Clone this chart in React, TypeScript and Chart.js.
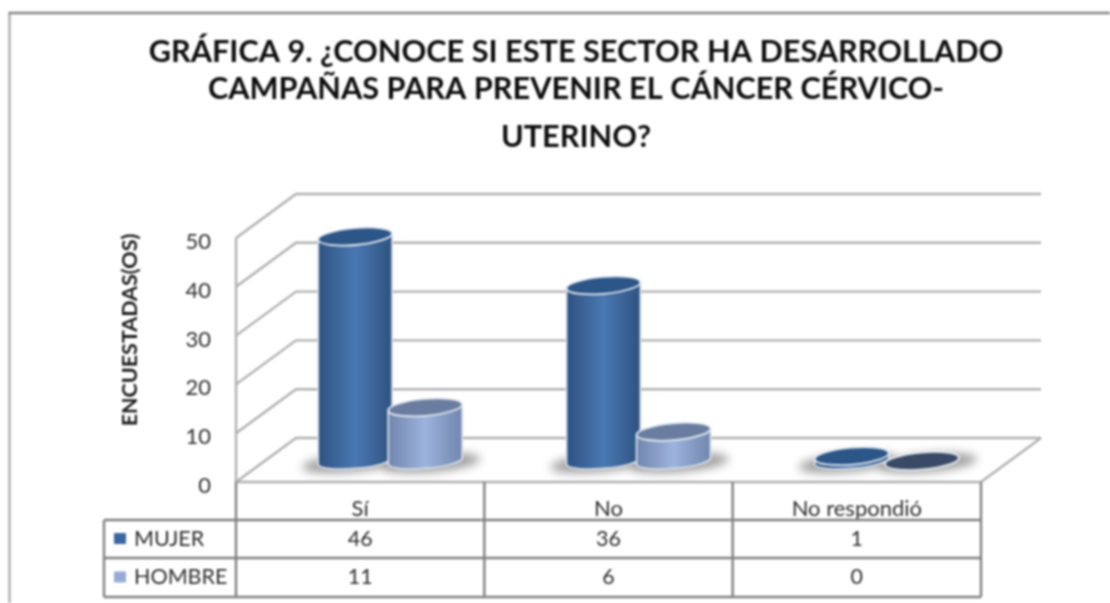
import React, { useEffect, useRef } from "react";
import { Chart, registerables } from "chart.js";

Chart.register(...registerables);

const categories = ["Sí", "No", "No respondió"];
const mujer = [46, 36, 1];
const hombre = [11, 6, 0];
const yTicks = [0, 10, 20, 30, 40, 50];
const titleLines = [
  "GRÁFICA 9. ¿CONOCE SI ESTE SECTOR HA DESARROLLADO",
  "CAMPAÑAS PARA PREVENIR EL CÁNCER CÉRVICO-",
  "UTERINO?",
];
const titleY = [52, 89, 137];
const yAxisTitle = "ENCUESTADAS(OS)";
const FONT = "Lato, Carlito, sans-serif";
const DEPTH_X = 60;
const DEPTH_Y = -44;
const BAR_DY = -21;
const TILT = (-5 * Math.PI) / 180;
const RY = 8.5;
const styles = [
  { edge: "#2e5280", mid: "#4a78b2", top: "#2d5688", swatch: "#3a679f", zero: "#2d5688" },
  { edge: "#7186ad", mid: "#9cb3de", top: "#6a7da0", swatch: "#95abd6", zero: "#3a4a66" },
];

const pseudo3d = {
  id: "pseudo3d",
  beforeDatasetsDraw(chart: any) {
    const { ctx, chartArea: a, scales } = chart;
    const y = scales.y;
    ctx.save();
    // outer frame
    ctx.lineWidth = 2.4;
    ctx.strokeStyle = "#adadad";
    ctx.beginPath();
    ctx.moveTo(9.5, 603);
    ctx.lineTo(9.5, 13);
    ctx.stroke();
    ctx.strokeStyle = "#858585";
    ctx.beginPath();
    ctx.moveTo(8.5, 13);
    ctx.lineTo(1110, 13);
    ctx.stroke();
    // back wall grid
    ctx.strokeStyle = "#b0b0b0";
    ctx.lineWidth = 2.4;
    y.ticks.forEach((t: any) => {
      const py = y.getPixelForValue(t.value);
      ctx.beginPath();
      ctx.moveTo(a.left, py);
      ctx.lineTo(a.left + DEPTH_X, py + DEPTH_Y);
      ctx.lineTo(a.right + DEPTH_X, py + DEPTH_Y);
      ctx.stroke();
    });
    // floor + left wall
    ctx.beginPath();
    ctx.moveTo(a.left, a.top);
    ctx.lineTo(a.left, a.bottom);
    ctx.lineTo(a.right, a.bottom);
    ctx.lineTo(a.right + DEPTH_X, a.bottom + DEPTH_Y);
    ctx.stroke();
    // shadows
    ctx.filter = "blur(5px)";
    ctx.fillStyle = "rgba(90,90,90,0.6)";
    chart.data.datasets.forEach((_: any, di: number) => {
      chart.getDatasetMeta(di).data.forEach((el: any) => {
        const cx = el.x + DEPTH_X / 2 + (di === 0 ? -4 : 6);
        ctx.beginPath();
        ctx.ellipse(cx, el.base + BAR_DY + 2, el.width / 2 + 12, 9, TILT, 0, Math.PI * 2);
        ctx.fill();
      });
    });
    ctx.restore();
  },
  beforeDatasetDraw() {
    return false;
  },
  afterDatasetsDraw(chart: any) {
    const { ctx } = chart;
    chart.data.datasets.forEach((ds: any, di: number) => {
      const st = styles[di];
      chart.getDatasetMeta(di).data.forEach((el: any, i: number) => {
        const cx = el.x + DEPTH_X / 2;
        const top = el.y + BAR_DY;
        const base = el.base + BAR_DY;
        const rx = el.width / 2;
        const lx = -rx * Math.cos(TILT);
        const ly = -rx * Math.sin(TILT);
        ctx.save();
        const grad = ctx.createLinearGradient(cx - rx, 0, cx + rx, 0);
        grad.addColorStop(0, st.edge);
        grad.addColorStop(0.5, st.mid);
        grad.addColorStop(1, st.edge);
        ctx.beginPath();
        ctx.moveTo(cx + lx, top + ly);
        ctx.lineTo(cx + lx, base + ly);
        ctx.ellipse(cx, base, rx, RY - 1, TILT, Math.PI, 0, true);
        ctx.lineTo(cx - lx, top - ly);
        ctx.closePath();
        ctx.fillStyle = grad;
        ctx.fill();
        ctx.strokeStyle = "#d8dee8";
        ctx.lineWidth = 1.8;
        ctx.stroke();
        ctx.beginPath();
        ctx.ellipse(cx, top, rx, RY, TILT, 0, Math.PI * 2);
        ctx.fillStyle = ds.data[i] === 0 ? st.zero : st.top;
        ctx.fill();
        ctx.strokeStyle = "#e6ebf2";
        ctx.lineWidth = 1.8;
        ctx.stroke();
        ctx.restore();
      });
    });
  },
  afterDraw(chart: any) {
    const { ctx, chartArea: a, scales, data } = chart;
    const x = scales.x;
    const legendLeft = 104;
    const rows = [482, 520, 558, 597];
    ctx.save();
    // data table grid
    ctx.strokeStyle = "#808080";
    ctx.lineWidth = 2.4;
    ctx.beginPath();
    ctx.moveTo(legendLeft, rows[1]);
    ctx.lineTo(a.right, rows[1]);
    ctx.moveTo(legendLeft, rows[2]);
    ctx.lineTo(a.right, rows[2]);
    ctx.moveTo(legendLeft, rows[3]);
    ctx.lineTo(a.right, rows[3]);
    ctx.moveTo(legendLeft, rows[1]);
    ctx.lineTo(legendLeft, rows[3]);
    const step = (a.right - a.left) / categories.length;
    for (let i = 0; i <= categories.length; i++) {
      const cxl = a.left + i * step;
      ctx.moveTo(cxl, rows[0]);
      ctx.lineTo(cxl, rows[3]);
    }
    ctx.stroke();
    // table body
    ctx.textBaseline = "middle";
    ctx.font = `21.5px ${FONT}`;
    data.datasets.forEach((ds: any, di: number) => {
      const cy = (rows[di + 1] + rows[di + 2]) / 2;
      ctx.fillStyle = styles[di].swatch;
      ctx.fillRect(114, cy - 6, 12, 11);
      ctx.fillStyle = "#2e2e2e";
      ctx.textAlign = "left";
      ctx.fillText(ds.label, 134, cy);
      ctx.textAlign = "center";
      ds.data.forEach((v: number, i: number) => {
        ctx.fillText(String(v), x.getPixelForValue(i), cy);
      });
    });
    // y axis title
    ctx.save();
    ctx.translate(130.5, 330);
    ctx.rotate(-Math.PI / 2);
    ctx.font = `bold 21.5px ${FONT}`;
    ctx.fillStyle = "#1a1a1a";
    ctx.textAlign = "center";
    ctx.textBaseline = "middle";
    ctx.fillText(yAxisTitle, 0, 0);
    ctx.restore();
    // title
    ctx.font = `bold 30.7px ${FONT}`;
    ctx.fillStyle = "#0d0d0d";
    ctx.textAlign = "center";
    ctx.textBaseline = "middle";
    titleLines.forEach((line, i) => ctx.fillText(line, 576, titleY[i]));
    ctx.restore();
  },
};

export default function App() {
  const ref = useRef<HTMLCanvasElement>(null);
  useEffect(() => {
    const chart = new Chart(ref.current as HTMLCanvasElement, {
      type: "bar",
      data: {
        labels: categories,
        datasets: [
          { label: "MUJER", data: mujer, backgroundColor: styles[0].swatch },
          { label: "HOMBRE", data: hombre, backgroundColor: styles[1].swatch },
        ],
      },
      plugins: [pseudo3d],
      options: {
        responsive: false,
        animation: false,
        events: [],
        layout: { padding: { left: 136, right: 129, top: 238, bottom: 71 } },
        datasets: { bar: { categoryPercentage: 0.5645, barPercentage: 1.06 } },
        plugins: { legend: { display: false }, title: { display: false }, tooltip: { enabled: false } },
        scales: {
          x: {
            grid: { display: false, drawTicks: false },
            border: { display: false },
            afterFit: (s: any) => { s.height = 50; },
            ticks: { padding: 14, maxRotation: 0, autoSkip: false, color: "#2e2e2e", font: { family: FONT, size: 22 } },
          },
          y: {
            min: 0,
            max: 50,
            grid: { display: false, drawTicks: false },
            border: { display: false },
            afterFit: (s: any) => { s.width = 100; },
            afterBuildTicks: (s: any) => { s.ticks = yTicks.map((value) => ({ value })); },
            ticks: { padding: 25, labelOffset: 4, color: "#2e2e2e", font: { family: FONT, size: 22 } },
          },
        },
      },
    } as any);
    return () => chart.destroy();
  }, []);
  return (
    <div style={{ position: "absolute", left: 0, top: 0, width: 1110, height: 603 }}>
      <canvas ref={ref} width={1110} height={603} style={{ display: "block", filter: "blur(0.8px)" }} />
    </div>
  );
}
